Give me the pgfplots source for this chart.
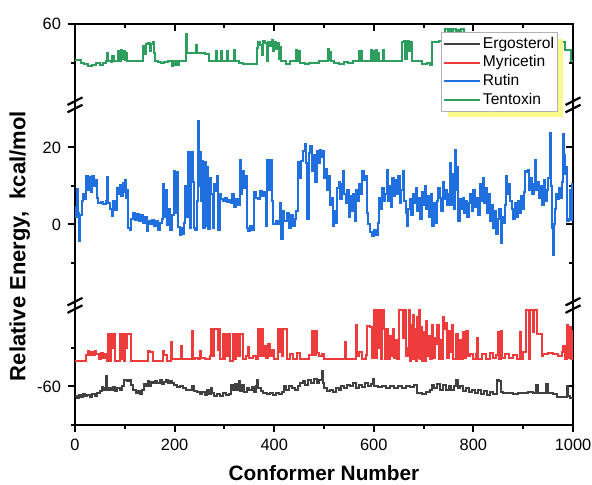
\documentclass[border=0pt]{standalone}
\usepackage{fontspec}
\setmainfont{Liberation Sans}
\usepackage{pgfplots}
\pgfplotsset{compat=1.18}
\usetikzlibrary{shadows}

\definecolor{ergo}{HTML}{404040}
\definecolor{myri}{HTML}{EE3B3B}
\definecolor{rutin}{HTML}{1F6FDF}
\definecolor{tent}{HTML}{2E9E5E}
\definecolor{shadowyellow}{RGB}{250,250,140}

% the legend's drop shadow must not reach the cells inside it
\makeatletter
\tikzset{noprea/.code={\let\tikz@preactions\pgfutil@empty}}
\makeatother

% broken y axis: bottom [-70,-40] -> [0,30], middle [-20,30] -> [32,82], top [40,60] -> [84,104]
\pgfplotsset{
  brokenframe/.style={
    scale only axis, width=249pt, height=200.5pt,
    xmin=0, xmax=1000, ymin=0, ymax=104,
    xtick={0,200,...,1000}, minor x tick num=1,
    ytick={10,52,72,104}, minor ytick={0,20,42,62,94},
    major tick length=3.5pt, minor tick length=2pt,
    axis line style={line width=1.2pt},
    tick style={black, line width=1pt},
  }
}

\begin{document}
\begin{tikzpicture}
\path[use as bounding box] (-37.5pt,-30pt) rectangle (258.5pt,212.5pt);

% ticks on top and right point inwards
\begin{axis}[brokenframe, tick align=inside, xtick pos=right, ytick pos=right,
  xticklabels={}, yticklabels={}]
\end{axis}

\begin{axis}[brokenframe, tick align=outside, xtick pos=left, ytick pos=left,
  yticklabels={-60,0,20,60},
  /pgf/number format/assume math mode=true,
  /pgf/number format/1000 sep={},
  every tick label/.append style={font=\fontsize{8.2}{10}\selectfont},
  xlabel={Conformer Number},
  ylabel={Relative Energy,~ kcal/mol},
  xlabel style={at={(axis description cs:0.5,-0.121)}, anchor=center, inner sep=0pt, font=\fontsize{10.4}{12}\selectfont\bfseries},
  ylabel style={at={(axis description cs:-0.111,0.446)}, anchor=center, inner sep=0pt, font=\fontsize{11}{12}\selectfont\bfseries},
  every axis plot/.append style={const plot, line width=1pt},
  legend style={at={(rel axis cs:0.97,0.98)}, anchor=north east,
    draw=gray!60, line width=0.6pt, fill=white,
    font=\fontsize{7.8}{9}\selectfont,
    inner xsep=0.5pt, inner ysep=1.5pt, row sep=1pt,
    nodes={noprea, inner ysep=0.6pt, inner xsep=1.2pt},
    cells={anchor=west},
    drop shadow={shadow xshift=3pt, shadow yshift=-3pt, fill=shadowyellow, opacity=1}},
  legend image code/.code={\draw[noprea, #1, line width=1pt] (0pt,0pt) -- (18pt,0pt);},
]

% Ergosterol
\addplot[ergo, y filter/.expression={y+70}] coordinates {
(0,-62.5) (4,-63.0) (8,-62.3) (12,-62.8) (16,-62.0) (20,-62.6) (25,-62.2) (30,-62.8) (35,-62.0) (40,-62.5)
(45,-61.8) (50,-61.2) (54,-60.2) (56,-61.0) (60,-60.5) (62,-57.2) (64,-60.8) (68,-60.3) (72,-61.0) (76,-60.2)
(80,-61.3) (85,-60.5) (90,-60.8) (95,-60.0) (98,-58.4) (104,-58.6) (108,-58.3) (112,-59.5) (117,-61.0) (122,-61.8)
(126,-61.2) (131,-62.0) (135,-61.0) (138,-59.3) (142,-59.8) (146,-58.6) (149,-60.0) (152,-58.8) (156,-59.2) (160,-58.5)
(165,-59.0) (170,-58.4) (174,-59.3) (178,-58.8) (182,-58.3) (186,-59.0) (190,-58.6) (195,-59.2) (199,-59.5) (204,-60.2)
(210,-59.8) (216,-60.5) (222,-61.0) (228,-60.8) (234,-60.0) (238,-61.2) (244,-61.5) (250,-62.0) (256,-61.4) (262,-62.2)
(266,-61.0) (270,-62.0) (274,-60.4) (276,-61.8) (280,-62.5) (286,-62.0) (292,-62.6) (298,-61.8) (304,-62.3) (310,-62.0)
(314,-59.5) (318,-61.0) (322,-59.4) (326,-60.8) (330,-58.6) (332,-61.2) (336,-59.5) (340,-61.5) (345,-60.5) (350,-61.0)
(356,-60.2) (360,-61.5) (364,-60.0) (366,-58.4) (368,-60.5) (374,-61.2) (378,-61.8) (385,-62.0) (392,-61.6) (398,-62.2)
(404,-61.8) (410,-62.0) (416,-61.5) (419,-60.0) (424,-60.8) (430,-59.8) (436,-60.5) (442,-61.0) (448,-60.0) (452,-59.2)
(458,-58.6) (462,-59.5) (468,-58.4) (474,-59.0) (480,-58.0) (486,-59.2) (490,-58.3) (495,-55.9) (497,-59.0) (500,-60.4)
(506,-61.2) (512,-60.8) (518,-61.5) (524,-60.5) (530,-61.0) (534,-59.8) (540,-60.5) (546,-59.5) (552,-60.0) (558,-59.2)
(564,-60.4) (570,-59.5) (576,-60.2) (582,-59.0) (588,-59.8) (594,-59.3) (598,-58.0) (600,-59.8) (608,-60.2) (616,-60.0)
(624,-60.4) (632,-59.9) (640,-60.5) (648,-60.0) (656,-60.3) (664,-59.8) (672,-60.2) (680,-59.5) (686,-61.7) (696,-61.9)
(704,-61.5) (712,-61.0) (716,-59.5) (720,-60.5) (726,-59.4) (732,-60.8) (738,-59.5) (744,-61.0) (750,-60.0) (756,-60.8)
(762,-59.8) (766,-58.4) (769,-60.5) (774,-60.0) (780,-61.2) (786,-60.5) (792,-61.5) (798,-60.8) (804,-61.8) (810,-61.0)
(816,-62.0) (822,-61.3) (828,-62.2) (834,-61.5) (840,-62.0) (847,-58.4) (852,-58.6) (856,-61.5) (860,-61.8) (870,-61.7)
(880,-61.9) (890,-61.6) (900,-61.8) (910,-61.5) (920,-61.8) (926,-59.5) (929,-61.6) (940,-61.8) (946,-59.4) (949,-61.7)
(960,-61.9) (967,-62.7) (980,-62.8) (987,-59.8) (990,-62.5) (994,-63.0) (1000,-62.8)
};
\addlegendentry{Ergosterol}

% Myricetin
\addplot[myri, y filter/.expression={y+70}] coordinates {
(0,-53.3) (22,-51.8) (26,-50.7) (28,-51.8) (33,-51.0) (36,-51.8) (40,-50.7) (43,-51.6) (48,-53.0) (52,-51.2)
(56,-52.5) (60,-51.5) (64,-53.3) (67,-46.4) (71,-53.3) (72,-46.4) (76,-50.0) (78,-46.4) (80,-53.3) (90,-46.4)
(93,-53.0) (96,-46.4) (99,-53.3) (100,-46.4) (104,-50.0) (105,-46.4) (112,-53.3) (147,-50.7) (150,-51.0) (156,-53.3)
(176,-50.8) (179,-51.8) (184,-53.3) (193,-48.6) (195,-53.0) (198,-52.8) (212,-49.4) (214,-52.8) (234,-45.6) (236,-52.8)
(240,-52.5) (246,-53.0) (252,-50.7) (254,-52.5) (262,-53.0) (272,-52.0) (274,-45.2) (278,-52.0) (280,-45.2) (284,-45.2)
(287,-50.5) (289,-45.2) (291,-53.0) (297,-46.4) (300,-53.0) (302,-46.4) (305,-52.0) (307,-46.4) (311,-53.3) (318,-46.4)
(322,-53.0) (324,-46.4) (328,-52.0) (331,-46.4) (338,-52.8) (344,-52.2) (348,-49.8) (350,-52.5) (358,-52.0) (364,-53.0)
(368,-45.0) (372,-52.0) (374,-45.0) (378,-52.0) (382,-49.6) (384,-52.5) (388,-49.0) (391,-52.0) (396,-50.5) (400,-52.8)
(408,-45.2) (411,-51.0) (413,-45.2) (416,-52.0) (418,-45.2) (425,-52.8) (432,-51.5) (438,-52.8) (445,-51.2) (452,-53.0)
(460,-52.8) (470,-51.8) (476,-45.6) (479,-51.8) (483,-45.6) (485,-51.2) (490,-52.0) (495,-51.5) (500,-52.8) (542,-48.6)
(544,-52.8) (564,-44.0) (566,-52.0) (570,-51.0) (576,-52.8) (584,-51.8) (586,-44.2) (592,-44.5) (596,-52.5) (601,-40.2)
(604,-52.5) (606,-40.2) (610,-50.0) (612,-40.2) (614,-52.8) (616,-40.2) (620,-45.0) (622,-52.8) (626,-45.2) (628,-53.0)
(632,-47.0) (634,-52.0) (638,-45.0) (640,-52.5) (644,-48.0) (646,-53.0) (651,-40.2) (656,-40.2) (658,-47.5) (662,-40.2)
(664,-52.0) (668,-50.0) (670,-40.2) (672,-53.3) (674,-44.0) (676,-53.0) (678,-41.5) (680,-53.0) (682,-45.0) (684,-53.3)
(686,-42.0) (688,-52.5) (690,-40.2) (692,-53.0) (694,-44.5) (696,-53.3) (698,-46.0) (700,-50.5) (702,-53.3) (704,-43.0)
(706,-52.0) (710,-47.0) (712,-53.0) (716,-44.0) (718,-52.5) (722,-47.5) (724,-49.0) (727,-44.0) (730,-52.8) (734,-48.0)
(737,-53.0) (739,-42.0) (741,-45.0) (744,-43.5) (746,-52.5) (750,-45.5) (753,-51.0) (757,-44.0) (760,-53.0) (766,-46.5)
(769,-52.8) (773,-48.0) (776,-53.0) (780,-46.0) (782,-52.5) (786,-45.5) (789,-52.0) (793,-51.5) (800,-52.8) (806,-51.5)
(808,-47.5) (810,-52.8) (818,-51.5) (826,-52.8) (834,-51.2) (840,-52.5) (845,-51.8) (850,-46.0) (852,-53.0) (855,-45.5)
(857,-52.5) (864,-51.5) (872,-52.5) (880,-51.8) (888,-52.8) (893,-45.8) (896,-53.0) (900,-51.0) (906,-40.2) (912,-53.0)
(914,-40.2) (920,-46.0) (922,-40.2) (927,-46.5) (934,-46.5) (937,-52.0) (940,-51.5) (950,-51.2) (960,-51.5) (970,-52.0)
(978,-51.0) (980,-49.5) (983,-53.0) (987,-44.0) (990,-52.5) (992,-44.5) (995,-53.0) (997,-45.5) (1000,-46.0)
};
\addlegendentry{Myricetin}

% Rutin
\addplot[rutin, y filter/.expression={y+52}] coordinates {
(0,4.5) (3,2.0) (5,9.3) (7,3.0) (9,-4.2) (11,2.5) (14,6.0) (17,8.0) (20,6.5) (23,12.7)
(26,9.0) (29,12.2) (32,8.5) (35,12.7) (38,10.0) (41,11.5) (44,7.0) (47,5.5) (52,5.8) (57,5.2)
(62,6.0) (64,12.2) (66,5.5) (70,4.0) (74,2.2) (77,6.0) (80,3.8) (84,9.5) (87,8.0) (90,10.2)
(93,7.5) (96,10.8) (98,8.5) (100,11.5) (102,7.0) (104,9.0) (107,-0.8) (110,-1.5) (113,1.5) (117,3.0)
(121,1.2) (125,2.8) (129,1.0) (133,2.5) (137,0.5) (141,2.0) (144,-1.8) (147,1.0) (151,0.2) (155,1.2)
(159,-0.5) (163,0.8) (167,-1.5) (171,0.5) (174,1.5) (177,10.5) (179,2.0) (181,9.0) (184,-0.2) (188,4.0)
(191,-1.5) (194,2.5) (198,14.0) (201,3.0) (204,13.5) (207,-0.7) (210,-2.8) (213,-1.0) (216,-2.5) (219,0.5)
(221,10.0) (224,2.0) (227,18.7) (230,-1.0) (232,18.7) (236,11.0) (238,-0.8) (241,-1.5) (244,6.0) (247,26.9)
(249,10.0) (251,18.7) (254,6.0) (256,16.5) (258,-0.8) (261,16.1) (263,-0.5) (266,14.8) (268,-1.2) (271,12.0)
(274,8.0) (277,-1.0) (279,10.5) (282,8.8) (285,12.5) (288,-1.5) (291,8.0) (294,6.5) (298,6.0) (302,6.8)
(306,5.8) (310,6.3) (313,5.5) (316,7.8) (320,4.5) (323,6.5) (327,5.0) (331,16.6) (333,8.0) (336,14.0)
(339,9.5) (342,12.5) (345,-1.0) (348,-1.8) (352,-0.5) (356,-1.4) (359,8.5) (363,7.0) (367,6.5) (371,8.8)
(375,7.5) (379,8.5) (383,-0.5) (385,16.6) (388,9.0) (391,16.6) (395,6.0) (398,0.2) (403,0.8) (407,0.0)
(411,5.5) (414,-3.7) (417,3.5) (420,1.0) (425,3.0) (429,-0.8) (433,2.5) (437,-0.5) (441,1.5) (444,3.5)
(448,16.1) (451,12.0) (454,16.5) (458,19.0) (461,20.9) (464,16.0) (466,1.5) (469,18.5) (472,20.4) (475,14.0)
(478,18.0) (481,11.0) (485,19.0) (488,16.0) (491,19.4) (494,17.5) (497,19.0) (500,12.0) (503,14.5) (506,9.0)
(509,12.5) (512,5.0) (515,7.0) (518,-0.5) (521,3.5) (524,0.5) (527,9.5) (530,11.0) (533,6.5) (536,10.5)
(539,14.0) (541,8.0) (544,5.5) (547,9.0) (550,2.0) (553,7.5) (556,3.5) (559,8.0) (562,1.0) (565,9.0)
(568,6.0) (571,10.5) (574,8.0) (577,14.0) (580,11.5) (583,12.5) (586,3.0) (589,0.2) (592,-2.0) (596,-2.9)
(600,-1.5) (604,-2.8) (608,0.5) (611,7.0) (614,4.0) (617,9.5) (620,6.0) (623,8.0) (626,14.2) (628,6.0)
(631,10.0) (634,4.5) (637,12.0) (640,7.5) (643,11.5) (646,8.0) (649,12.5) (652,5.5) (655,9.0) (658,14.0)
(661,6.0) (664,3.0) (666,-0.5) (669,4.0) (672,6.5) (675,2.5) (678,8.0) (681,5.5) (684,9.5) (687,3.5)
(690,7.0) (693,1.5) (696,8.5) (699,5.0) (702,10.0) (705,4.0) (708,7.5) (711,2.0) (714,8.0) (717,-0.5)
(720,5.5) (723,0.5) (726,6.0) (729,9.5) (732,7.0) (735,3.5) (738,11.0) (741,6.5) (744,9.0) (747,5.0)
(750,8.0) (753,15.9) (755,5.0) (758,13.0) (761,4.0) (764,19.4) (766,9.0) (768,15.0) (770,1.0) (773,6.5)
(776,4.0) (779,7.0) (782,3.0) (785,6.0) (788,2.0) (791,5.5) (794,8.0) (797,3.5) (800,9.0) (803,4.5)
(806,7.0) (809,2.5) (813,10.5) (816,6.0) (819,12.0) (822,5.5) (825,9.5) (828,3.0) (831,8.0) (834,1.0)
(837,5.0) (840,-1.0) (843,3.5) (846,-2.5) (849,1.5) (852,4.0) (855,-4.8) (857,2.0) (860,0.5) (863,5.0)
(866,12.7) (868,8.0) (871,10.5) (874,6.0) (877,4.0) (880,1.5) (883,5.5) (886,2.0) (889,6.0) (892,3.0)
(895,7.5) (898,4.0) (901,8.5) (903,14.0) (906,13.5) (909,14.2) (912,9.0) (915,12.0) (918,8.0) (921,10.5)
(924,16.6) (926,9.0) (929,11.0) (932,7.0) (935,10.0) (938,5.0) (941,11.5) (944,6.0) (947,9.0) (950,12.0)
(953,23.6) (955,10.0) (957,-1.0) (959,-8.0) (961,0.0) (963,4.0) (966,8.0) (969,6.5) (972,9.5) (975,7.0)
(978,11.0) (979,23.4) (982,18.0) (984,13.0) (986,15.0) (988,1.0) (991,1.5) (993,9.0) (995,1.2) (997,10.4)
(1000,10.4)
};
\addlegendentry{Rutin}

% Tentoxin
\addplot[tent, y filter/.expression={y+44}] coordinates {
(0,50.6) (12,50.0) (18,49.6) (26,49.2) (34,49.4) (42,49.8) (50,49.3) (56,49.9) (62,50.3) (64,52.6)
(67,50.3) (72,50.1) (75,51.8) (78,50.3) (84,50.4) (86,53.0) (89,50.5) (92,53.2) (94,50.8) (96,52.0)
(98,53.1) (100,50.6) (103,52.6) (105,50.4) (112,50.3) (120,50.4) (134,50.3) (136,54.4) (140,52.3) (142,54.8)
(146,55.1) (150,53.0) (152,54.9) (156,55.2) (158,52.5) (161,50.3) (166,50.1) (172,49.8) (178,50.2) (186,50.3)
(192,50.3) (194,49.2) (197,50.3) (200,49.3) (203,50.3) (206,49.4) (208,50.3) (216,50.3) (222,57.3) (225,52.4)
(236,52.4) (243,54.6) (245,52.4) (256,52.4) (262,52.3) (270,50.3) (280,50.3) (283,53.0) (285,50.3) (292,50.3)
(294,53.0) (296,50.3) (304,50.3) (306,53.0) (308,50.3) (318,50.3) (320,53.2) (322,50.3) (330,49.8) (338,49.5)
(350,49.6) (360,49.7) (365,53.8) (368,55.3) (372,54.6) (376,52.0) (378,55.6) (382,55.0) (386,50.3) (388,55.4)
(392,54.2) (395,55.8) (398,53.0) (400,55.2) (404,53.6) (408,55.0) (410,51.0) (412,54.0) (414,50.5) (418,50.3)
(424,49.6) (432,50.3) (444,53.2) (446,50.3) (450,53.0) (452,50.0) (462,49.6) (470,50.0) (480,49.8) (490,50.3)
(508,53.4) (511,50.6) (513,52.8) (515,50.3) (520,50.0) (530,49.6) (540,50.1) (548,49.8) (558,50.3) (571,53.0)
(573,50.3) (575,53.0) (577,50.3) (586,50.3) (595,53.2) (597,50.3) (601,53.0) (603,50.3) (605,53.3) (607,50.3)
(608,52.6) (610,50.3) (618,53.2) (620,50.3) (630,50.3) (645,50.3) (656,55.4) (660,55.6) (663,51.0) (666,55.5)
(670,53.0) (672,55.4) (676,50.3) (690,50.3) (696,49.6) (706,49.8) (713,49.4) (716,55.4) (730,55.6) (739,55.4)
(743,58.6) (748,56.0) (752,58.8) (756,57.0) (760,58.6) (765,57.5) (768,58.5) (772,56.0) (776,58.6) (782,55.5)
(790,55.4) (850,55.0) (900,55.2) (950,55.0) (975,55.4) (984,53.3) (995,50.5) (1000,50.5)
};
\addlegendentry{Tentoxin}

\coordinate (bl) at (axis cs:0,31);
\coordinate (tl) at (axis cs:0,83);
\coordinate (br) at (axis cs:1000,31);
\coordinate (tr) at (axis cs:1000,83);
\end{axis}

% break marks on both spines
\foreach \c in {bl,tl,br,tr} {
  \draw[line width=1.1pt] ([shift={(-3.75pt,-3.7pt)}]\c) -- ++(7.5pt,3.8pt);
  \draw[line width=1.1pt] ([shift={(-3.75pt,0pt)}]\c) -- ++(7.5pt,3.8pt);
}
\end{tikzpicture}
\end{document}
